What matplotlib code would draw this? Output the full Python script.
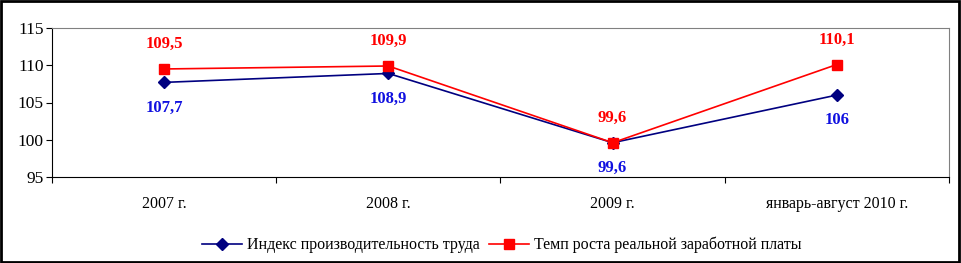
import matplotlib
matplotlib.use("Agg")
import matplotlib.pyplot as plt
from matplotlib.patches import Rectangle

plt.rcParams["font.family"] = ["Liberation Serif", "DejaVu Serif"]

categories = ["2007 г.", "2008 г.", "2009 г.", "январь-август 2010 г."]
productivity = [107.7, 108.9, 99.6, 106]
wages = [109.5, 109.9, 99.6, 110.1]
prod_labels = ["107,7", "108,9", "99,6", "106"]
wage_labels = ["109,5", "109,9", "99,6", "110,1"]

NAVY = "#000080"
RED = "#FF0000"

fig = plt.figure(figsize=(9.62, 2.63), dpi=100)
ax = fig.add_axes([52 / 962, 1 - 177 / 263, 897 / 962, 149 / 263])

x = list(range(len(categories)))
ax.plot(x, productivity, color=NAVY, lw=1.2, marker="D", ms=6,
        label="Индекс производительность труда")
ax.plot(x, wages, color=RED, lw=1.2, marker="s", ms=7,
        label="Темп роста реальной заработной платы")

# подписи значений: синие снизу, красные сверху
for xi, v, t in zip(x, productivity, prod_labels):
    ax.annotate(t, (xi, v), xytext=(0, -18), textcoords="offset points",
                ha="center", va="center", color="#1010E0", fontsize=12,
                fontweight="bold")
for xi, v, t in zip(x, wages, wage_labels):
    ax.annotate(t, (xi, v), xytext=(0, 18), textcoords="offset points",
                ha="center", va="center", color=RED, fontsize=12,
                fontweight="bold")

ax.set_xlim(-0.5, len(categories) - 0.5)
ax.set_ylim(95, 115)
ax.set_yticks([95, 100, 105, 110, 115])
ax.tick_params(axis="y", labelsize=12.5, length=4, direction="out", pad=2)
ax.set_xticks([i + 0.5 for i in range(-1, len(categories))])
ax.set_xticklabels([])
ax.set_xticks(x, minor=True)
ax.set_xticklabels(categories, minor=True)
ax.tick_params(axis="x", which="major", length=4, direction="out")
ax.tick_params(axis="x", which="minor", length=0, labelsize=11.5, pad=14)

for side in ["top", "right"]:
    ax.spines[side].set_color("#808080")
for side in ["left", "bottom"]:
    ax.spines[side].set_color("black")

fig.legend(loc="center", bbox_to_anchor=(502 / 962, 1 - 245 / 263), ncol=2,
           frameon=False, fontsize=11.5, handlelength=2.5, columnspacing=0.6,
           handletextpad=0.3)

fig.patches.append(Rectangle((0.001, 0.004), 0.996, 0.993,
                             transform=fig.transFigure, fill=False,
                             edgecolor="black", lw=2))

fig.savefig("out.png", dpi=100)
